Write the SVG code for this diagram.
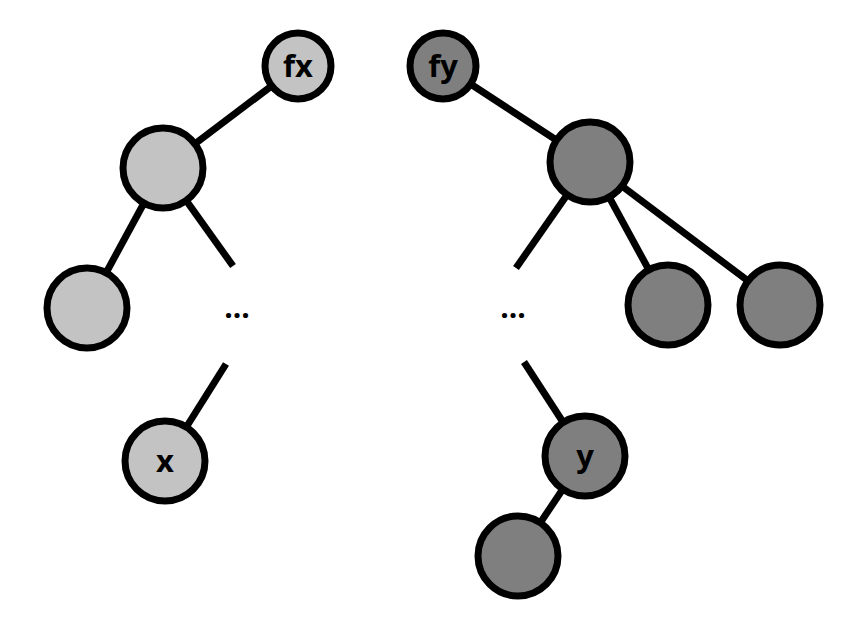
<svg xmlns="http://www.w3.org/2000/svg" width="856" height="620" viewBox="0 0 856 620">
<style>
.e{stroke:#000;stroke-width:7;fill:none}
.l{fill:#c3c3c3;stroke:#000;stroke-width:7}
.d{fill:#7f7f7f;stroke:#000;stroke-width:7}
.t{font-family:"Open Sans","Liberation Sans",sans-serif;font-weight:bold;font-size:31px;fill:#000;text-anchor:middle}
.dots{font-family:"Open Sans","Liberation Sans",sans-serif;font-weight:bold;font-size:30px;fill:#000;text-anchor:middle}
</style>
<rect width="856" height="620" fill="#fff"/>
<g id="connectors">
<line class="e" x1="298" y1="66" x2="163" y2="168"/>
<line class="e" x1="163" y1="168" x2="87" y2="308"/>
<line class="e" x1="163" y1="168" x2="233" y2="266"/>
<line class="e" x1="226" y1="364" x2="165" y2="461"/>
<line class="e" x1="443" y1="66" x2="590" y2="162"/>
<line class="e" x1="590" y1="162" x2="516" y2="268"/>
<line class="e" x1="590" y1="162" x2="668" y2="305"/>
<line class="e" x1="590" y1="162" x2="780" y2="305"/>
<line class="e" x1="524" y1="362" x2="585" y2="456"/>
<line class="e" x1="585" y1="456" x2="518" y2="556"/>
</g>
<g id="fx"><circle class="l" cx="298" cy="66" r="33"/><text class="t" x="298" y="77">fx</text></g>
<g id="fy"><circle class="d" cx="443" cy="66" r="33"/><text class="t" x="443" y="77">fy</text></g>
<g id="n1"><circle class="l" cx="163" cy="168" r="40"/></g>
<g id="n2"><circle class="l" cx="87" cy="308" r="40"/></g>
<g id="dots1"><text class="dots" x="237" y="318">...</text></g>
<g id="x"><circle class="l" cx="165" cy="461" r="40"/><text class="t" x="165" y="472">x</text></g>
<g id="n3"><circle class="d" cx="590" cy="162" r="40"/></g>
<g id="dots2"><text class="dots" x="513" y="318">...</text></g>
<g id="n4"><circle class="d" cx="668" cy="305" r="40"/></g>
<g id="n5"><circle class="d" cx="780" cy="305" r="40"/></g>
<g id="y"><circle class="d" cx="585" cy="456" r="40"/><text class="t" x="585" y="467">y</text></g>
<g id="n6"><circle class="d" cx="518" cy="556" r="40"/></g>
</svg>
